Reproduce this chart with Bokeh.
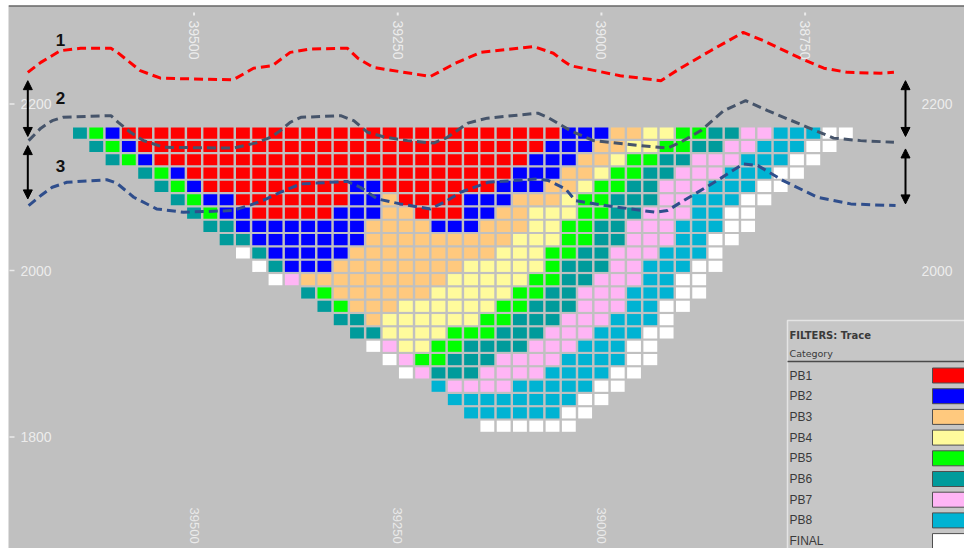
import math

from bokeh.core.properties import value
from bokeh.embed import file_html
from bokeh.models import Arrow, NormalHead, Range1d, Span
from bokeh.plotting import figure
from bokeh.resources import INLINE

# ---------------------------------------------------------------------------
# Pushback categories shown in the section
CATEGORIES = ["PB1", "PB2", "PB3", "PB4", "PB5", "PB6", "PB7", "PB8", "FINAL"]
CODES = ["R", "B", "O", "Y", "G", "T", "P", "C", "W"]
COLORS = ["#FF0000", "#0000FF", "#FFC97E", "#FFFB9C", "#00FF00",
          "#009B9B", "#FFB5F5", "#00B3D3", "#FFFFFF"]

# Block model grid (easting of column 0, elevation of bench 0, block spacing)
COL0_EASTING = 39640
BLOCK_DX = 20
ROW0_ELEV = 2165
BLOCK_DZ = 16

# First column of each bench, top bench first
ROW_START = [0, 1, 2, 4, 5, 6, 7, 8, 9, 10, 11, 12, 14, 15, 16, 17, 18, 19,
             20, 22, 23, 24, 25]

# Category runs along each bench, west to east (code + number of blocks)
ROW_RUNS = [
    "T1 G1 B1 R27 B3 O2 Y2 G2 T2 P2 C3 W2",
    "T1 G1 B1 R25 B3 O2 Y2 G2 T2 P2 C3 W2",
    "T1 G1 B1 R23 B3 O2 Y1 G2 T2 P3 C3 W2",
    "T1 G1 B1 R20 B3 O2 Y1 G2 T2 P3 C3 W2",
    "T1 G1 B1 R9 B2 R7 B3 O2 Y1 G2 T2 P3 C3 W2",
    "T1 G1 B2 R7 B2 O1 R4 B3 O3 Y1 G2 T3 P2 C3 W2",
    "T1 G1 B2 R5 B3 O2 R3 B2 O2 Y3 G2 T2 P3 C2 W2",
    "T2 B8 O4 B3 O3 Y2 G2 T2 P3 C3 W2",
    "T2 B7 O9 Y3 G2 T2 P3 C2 W2",
    "W1 T1 B5 O9 Y3 G2 T2 P3 C3 W1",
    "W1 T1 B3 O8 Y5 G1 T3 P2 C3 W2",
    "W1 P1 O9 Y5 G2 T2 P3 C2 W2",
    "T1 G1 O6 Y5 G2 T2 P3 C3 W2",
    "T1 G1 O3 Y6 G2 T3 P3 C2 W2",
    "T2 O1 Y6 G2 T3 P3 C3 W1",
    "T2 Y4 G3 T3 P3 C3 W2",
    "W1 P1 Y2 G2 T4 P3 C3 W2",
    "W1 P1 G2 T3 P4 C4 W2",
    "W1 P1 T3 P4 C4 W2",
    "C1 P4 C5 W2",
    "C8 W2",
    "C6 W2",
    "W6",
]

# Surface traces (easting, elevation)
LINE1_E = [39704, 39688, 39664, 39639, 39602, 39594, 39566, 39541, 39452, 39427,
           39404, 39382, 39357, 39312, 39299, 39280, 39210, 39179, 39148, 39083,
           39059, 39047, 39038, 38977, 38927, 38903, 38866, 38826, 38801, 38756,
           38727, 38698, 38657, 38641]
LINE1_Z = [2238, 2250, 2264, 2267, 2267, 2262, 2240, 2231, 2229, 2243,
           2246, 2262, 2266, 2267, 2255, 2244, 2233, 2249, 2262, 2269,
           2261, 2252, 2246, 2234, 2228, 2243, 2264, 2286, 2276, 2255,
           2243, 2238, 2237, 2238]

LINE2_E = [39703, 39688, 39674, 39661, 39602, 39593, 39578, 39562, 39537, 39452,
           39425, 39406, 39394, 39382, 39369, 39320, 39304, 39287, 39265, 39238,
           39206, 39189, 39164, 39140, 39078, 39066, 39038, 39010, 38952, 38919,
           38903, 38878, 38850, 38823, 38796, 38747, 38715, 38682, 38641]
LINE2_Z = [2156, 2171, 2180, 2184, 2186, 2178, 2166, 2156, 2148, 2147,
           2153, 2160, 2168, 2178, 2184, 2186, 2180, 2166, 2160, 2156,
           2153, 2160, 2177, 2183, 2189, 2184, 2168, 2156, 2150, 2147,
           2154, 2168, 2192, 2204, 2192, 2172, 2159, 2156, 2154]

LINE3_E = [39703, 39688, 39674, 39656, 39607, 39595, 39574, 39546, 39513, 39452,
           39427, 39411, 39394, 39369, 39312, 39296, 39275, 39247, 39210, 39189,
           39173, 39139, 39077, 39065, 39044, 39032, 38995, 38934, 38919, 38899,
           38858, 38826, 38808, 38777, 38735, 38694, 38670, 38639]
LINE3_Z = [2078, 2090, 2100, 2106, 2109, 2105, 2088, 2074, 2070, 2072,
           2080, 2086, 2094, 2104, 2107, 2100, 2086, 2080, 2074, 2084,
           2094, 2106, 2110, 2108, 2098, 2084, 2078, 2070, 2072, 2084,
           2108, 2128, 2126, 2108, 2088, 2080, 2079, 2078]

LINE_LABELS = ["1", "2", "3"]

# Axis ticks
X_TICKS = [39500, 39250, 39000, 38750]
Y_TICKS = [2200, 2000, 1800]

# ---------------------------------------------------------------------------
W, H = 964, 548
FRAME_LEFT, FRAME_TOP = 8, 5
X_START, X_END = 39727.7, 38554.4
Y_START, Y_END = 1666.1, 2318.3


def sx(px):
    """Screen pixel column -> easting."""
    return X_START + (px - FRAME_LEFT) / (W - FRAME_LEFT) * (X_END - X_START)


def sy(py):
    """Screen pixel row -> elevation."""
    return Y_END - (py - FRAME_TOP) / (H - FRAME_TOP) * (Y_END - Y_START)


p = figure(width=W, height=H,
           x_range=Range1d(X_START, X_END), y_range=Range1d(Y_START, Y_END),
           x_axis_location=None, y_axis_location=None,
           toolbar_location=None, output_backend="svg",
           min_border_left=FRAME_LEFT, min_border_right=0,
           min_border_top=FRAME_TOP, min_border_bottom=0,
           background_fill_color="#C0C0C0", border_fill_color="#FFFFFF",
           outline_line_color=None)
p.grid.grid_line_color = None

# top frame edge
p.add_layout(Span(location=Y_END, dimension="width",
                  line_color="#3A3A3A", line_width=2))

# ---- axis tick labels drawn inside the section ------------------------------
tick_font = value("Liberation Sans")
tick_color = "#F2F2F2"
p.text(x=X_TICKS, y=[sy(20)] * len(X_TICKS), text=[str(t) for t in X_TICKS],
       angle=-math.pi / 2, text_align="left", text_baseline="middle",
       text_font=tick_font, text_font_size="14px",
       text_color=tick_color, text_alpha=0.9)
p.text(x=X_TICKS, y=[sy(507)] * len(X_TICKS), text=[str(t) for t in X_TICKS],
       angle=-math.pi / 2, text_align="left", text_baseline="middle",
       text_font=tick_font, text_font_size="13px",
       text_color=tick_color, text_alpha=0.85)
p.segment(x0=X_TICKS, y0=[sy(12)] * len(X_TICKS),
          x1=X_TICKS, y1=[sy(15)] * len(X_TICKS),
          line_color=tick_color, line_width=2, line_alpha=0.85)
p.text(x=[sx(20)] * len(Y_TICKS), y=Y_TICKS, text=[str(t) for t in Y_TICKS],
       text_align="left", text_baseline="middle",
       text_font=tick_font, text_font_size="14px",
       text_color=tick_color, text_alpha=0.9)
p.segment(x0=[sx(9)] * len(Y_TICKS), y0=Y_TICKS,
          x1=[sx(14)] * len(Y_TICKS), y1=Y_TICKS,
          line_color=tick_color, line_width=1.5, line_alpha=0.85)
p.text(x=[sx(921)] * len(Y_TICKS), y=Y_TICKS, text=[str(t) for t in Y_TICKS],
       text_align="left", text_baseline="middle",
       text_font=tick_font, text_font_size="14px",
       text_color=tick_color, text_alpha=0.9)

# ---- block model -------------------------------------------------------------
code_color = dict(zip(CODES, COLORS))
bx, by, bc = [], [], []
for r, (start, runs) in enumerate(zip(ROW_START, ROW_RUNS)):
    c = start
    for tok in runs.split():
        code, n = tok[0], int(tok[1:])
        for _ in range(n):
            bx.append(COL0_EASTING - BLOCK_DX * c)
            by.append(ROW0_ELEV - BLOCK_DZ * r)
            bc.append(code_color[code])
            c += 1
p.rect(x=bx, y=by, width=17, height=13.4, fill_color=bc, line_color=None)

# ---- surface traces ----------------------------------------------------------
p.line(LINE1_E, LINE1_Z, line_color="#FF0000", line_width=3, line_dash="9 5")
p.line(LINE2_E, LINE2_Z, line_color="#46546A", line_width=3, line_dash="9 5")
p.line(LINE3_E, LINE3_Z, line_color="#2F4E8C", line_width=3, line_dash="9 5")

# thickness arrows between traces at both ends
def head():
    return NormalHead(size=9, fill_color="black", line_color="black")


x_left = LINE1_E[0]
x_right = sx(905)
arrow_spans = [
    (x_left, LINE1_Z[0] - 10, LINE2_Z[0] + 5),
    (x_left, LINE2_Z[0] - 6, LINE3_Z[0] + 8),
    (x_right, LINE1_Z[-1] - 10, LINE2_Z[-1] + 7),
    (x_right, LINE2_Z[-1] - 8, LINE3_Z[-1] + 2),
]
for xa, ya, yb in arrow_spans:
    p.add_layout(Arrow(start=head(), end=head(), x_start=xa, y_start=ya,
                       x_end=xa, y_end=yb, line_color="black", line_width=2))

p.text(x=[sx(60)] * 3, y=[sy(39), sy(97), sy(165)], text=LINE_LABELS,
       text_align="center", text_baseline="middle",
       text_font=value("Liberation Sans"), text_font_style="bold",
       text_font_size="17px", text_color="#111111")

# ---- category panel ----------------------------------------------------------
p.quad(left=sx(787), right=sx(990), top=sy(320), bottom=sy(570),
       fill_color="#C6C6C6", line_color="#E4E4E4", line_width=1.5)
p.text(x=[sx(789)], y=[sy(335)], text=["FILTERS: Trace"],
       text_align="left", text_baseline="middle",
       text_font=value("DejaVu Sans"), text_font_style="bold",
       text_font_size="10px", text_color="#3A3A3A")
p.text(x=[sx(789)], y=[sy(353)], text=["Category"],
       text_align="left", text_baseline="middle",
       text_font=value("DejaVu Sans"), text_font_size="9.5px",
       text_color="#3A3A3A")
p.segment(x0=[sx(787)], y0=[sy(361)], x1=[sx(990)], y1=[sy(361)],
          line_color="#4A4A4A", line_width=1.5)

leg_py = [375 + 20.7 * i for i in range(len(CATEGORIES))]
p.text(x=[sx(789)] * len(CATEGORIES), y=[sy(v) for v in leg_py],
       text=CATEGORIES, text_align="left", text_baseline="middle",
       text_font=value("Liberation Sans"), text_font_size="12px",
       text_color="#3A3A3A")
p.quad(left=[sx(932)] * len(CATEGORIES), right=[sx(990)] * len(CATEGORIES),
       top=[sy(v - 7.5) for v in leg_py], bottom=[sy(v + 7.5) for v in leg_py],
       fill_color=COLORS, line_color="#4E4E4E", line_width=1)

open("out.html", "w").write(file_html(p, INLINE))
